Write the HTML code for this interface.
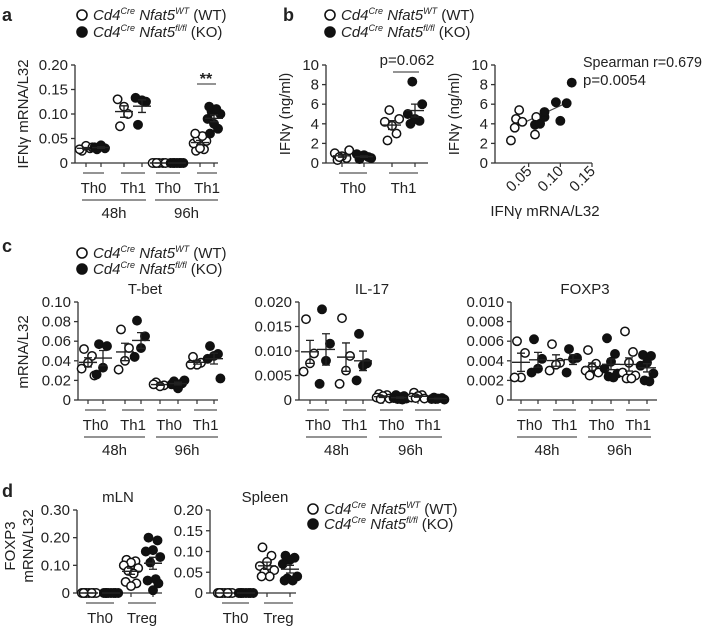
<!DOCTYPE html>
<html><head><meta charset="utf-8">
<style>
body{margin:0;background:#fff;}
svg{display:block;font-family:"Liberation Sans",Arial,sans-serif;fill:#222;}
text{fill:#222;}
</style></head>
<body>
<svg id="fig" width="706" height="627" viewBox="0 0 706 627" xmlns="http://www.w3.org/2000/svg">
<g font-weight="bold" font-size="18">
<text x="2" y="21">a</text>
<text x="283" y="21">b</text>
<text x="2" y="252">c</text>
<text x="2" y="497">d</text>
</g>
</svg>
<script>
// ---------- DATA ----------
const aGroups = ["Th0","Th1","Th0","Th1"];
const aTimes = ["48h","96h"];
const aWT = [[0.025,0.03,0.035,0.028,0.032],[0.075,0.1,0.115,0.13],[0,0,0,0,0,0],[0.025,0.028,0.03,0.04,0.045,0.05,0.055,0.06]];
const aKO = [[0.028,0.03,0.036,0.032],[0.078,0.125,0.128,0.133],[0,0,0,0,0,0,0],[0.06,0.07,0.08,0.09,0.1,0.105,0.11,0.115]];
const aTicks = [0,0.05,0.10,0.15,0.20];
const aTickLabels = ["0","0.05","0.10","0.15","0.20"];

const bGroups = ["Th0","Th1"];
const bWT = [[0.3,0.5,0.7,1.0,1.3,0.6],[2.3,3.0,3.8,4.2,4.5,5.4]];
const bKO = [[0.4,0.6,0.8,0.9,0.5,0.7],[4.0,4.3,4.5,5.0,6.0,8.3]];
const bTicks = [0,2,4,6,8,10];

const sWTx = [0.022,0.028,0.030,0.035,0.040,0.060,0.062];
const sWTy = [2.3,3.6,4.5,5.4,4.2,2.9,4.7];
const sKOx = [0.060,0.068,0.075,0.075,0.093,0.100,0.110,0.118];
const sKOy = [3.9,4.0,4.7,5.2,6.2,4.3,6.1,8.2];
const sXTicks = [0.05,0.10,0.15];
const sXTickLabels = ["0.05","0.10","0.15"];
const sFit = [0.025,3.6,0.112,6.2];

const tbetWT = [[0.052,0.045,0.038,0.032,0.025],[0.072,0.053,0.040,0.031],[0.018,0.015,0.014,0.016],[0.044,0.038,0.036,0.036]];
const tbetKO = [[0.057,0.055,0.033,0.026],[0.081,0.065,0.053,0.044],[0.019,0.017,0.012,0.016,0.020],[0.055,0.047,0.045,0.042,0.022]];
const tbetTicks = [0,0.02,0.04,0.06,0.08,0.10];
const tbetTickLabels = ["0","0.02","0.04","0.06","0.08","0.10"];

const il17WT = [[0.0165,0.0095,0.0075,0.0058],[0.0167,0.009,0.006,0.0033],[0.0012,0.001,0.0008,0.0005,0.0003,0.0002],[0.0015,0.001,0.0008,0.0005,0.0003,0.0004]];
const il17KO = [[0.0185,0.0115,0.008,0.0033],[0.0135,0.0075,0.007,0.004],[0.001,0.0008,0.0006,0.0004,0.0003,0.0002,0.0001],[0.0005,0.0004,0.0003,0.0002,0.0001,0.0002]];
const il17Ticks = [0,0.005,0.010,0.015,0.020];
const il17TickLabels = ["0","0.005","0.010","0.015","0.020"];

const foxWT = [[0.006,0.0048,0.0023,0.0023],[0.0057,0.0038,0.0036,0.003],[0.0051,0.0037,0.0033,0.003,0.0028,0.0025],[0.007,0.0049,0.0038,0.0028,0.0025,0.0022,0.0022]];
const foxKO = [[0.0062,0.0042,0.0032,0.0028],[0.0052,0.0043,0.0042,0.0028],[0.0063,0.0047,0.0039,0.0032,0.0027,0.0024,0.0023],[0.0046,0.0045,0.0038,0.0035,0.0027,0.002,0.0019]];
const foxTicks = [0,0.002,0.004,0.006,0.008,0.010];
const foxTickLabels = ["0","0.002","0.004","0.006","0.008","0.010"];

const dGroups = ["Th0","Treg"];
const mlnWT = [[0,0,0,0,0,0,0,0],[0.12,0.115,0.11,0.1,0.09,0.08,0.07,0.04,0.035,0.025]];
const mlnKO = [[0,0,0,0,0,0,0,0],[0.2,0.19,0.155,0.15,0.13,0.11,0.05,0.045,0.035,0.01]];
const mlnTicks = [0,0.10,0.20,0.30];
const mlnTickLabels = ["0","0.10","0.20","0.30"];
const splWT = [[0,0,0,0,0,0,0,0],[0.11,0.09,0.075,0.065,0.055,0.05,0.04,0.04]];
const splKO = [[0,0,0,0,0,0,0,0],[0.09,0.085,0.08,0.07,0.04,0.035,0.03,0.03]];
const splTicks = [0,0.05,0.10,0.15,0.20];
const splTickLabels = ["0","0.05","0.10","0.15","0.20"];

// ---------- HELPERS ----------
const NS = "http://www.w3.org/2000/svg";
const svg = document.getElementById("fig");
function el(tag, attrs, parent){
  const e = document.createElementNS(NS, tag);
  for (const k in attrs) e.setAttribute(k, attrs[k]);
  (parent||svg).appendChild(e);
  return e;
}
function scale(d0,d1,p0,p1){return v=>p0+(v-d0)/(d1-d0)*(p1-p0);}
const JIT = [-5,5,0,-8,8,-3,3,-6,6,0,-4,4];
function meanSem(a){const m=a.reduce((s,v)=>s+v,0)/a.length;const sd=Math.sqrt(a.reduce((s,v)=>s+(v-m)*(v-m),0)/Math.max(1,a.length-1));return [m,sd/Math.sqrt(a.length)];}

function yAxis(g, x, y0, y1, ticks, labels, dmax){
  const y = scale(0,dmax,y0,y1);
  const ax = el("line",{x1:x,x2:x,y1:y0,y2:y1,stroke:"#333","stroke-width":1.3},g);
  
  
  ticks.forEach((t,i)=>{
    const tk = el("line",{x1:x-4,x2:x,y1:y(t),y2:y(t),stroke:"#333","stroke-width":1.3},g);
    
    
    const tl = el("text",{x:x-7,y:y(t)+5,"text-anchor":"end","font-size":15},g);
    
    
    tl.textContent = labels[i];
  });
  return y;
}

function dotPlot(name, cfg){
  const g = el("g",{});
  
  
  const y = yAxis(g, cfg.ax, cfg.y0, cfg.y1, cfg.ticks, cfg.labels, cfg.dmax);
  const xa = el("line",{x1:cfg.ax,x2:cfg.axEnd,y1:cfg.y0,y2:cfg.y0,stroke:"#333","stroke-width":1.3},g);
  
  
  if (cfg.title){
    const t = el("text",{x:cfg.titleX,y:cfg.y1-8,"text-anchor":"middle","font-size":15},g);
    
    
    t.textContent = cfg.title;
  }
  const series = [[cfg.wt,"open"],[cfg.ko,"filled"]];
  cfg.wt.forEach((_,gi)=>{
    series.forEach(([data,kind],si)=>{
      const cx = cfg.xs[gi*2+si];
      const tk = el("line",{x1:cx,x2:cx,y1:cfg.y0,y2:cfg.y0+4,stroke:"#333","stroke-width":1.2},g);
      
      
      data[gi].forEach((v,i)=>{
        const c = el("circle",{cx:cx+JIT[i%JIT.length]*cfg.jit,cy:y(v),r:4.2,
          fill:kind==="open"?"#fff":"#111",stroke:"#111","stroke-width":1.5},g);
        
        
      });
      const [m,se] = meanSem(data[gi]);
      const ml = el("line",{x1:cx-9,x2:cx+9,y1:y(m),y2:y(m),stroke:"#222","stroke-width":1.4},g);
      
      
      const eb = el("path",{d:`M${cx},${y(m-se)}V${y(m+se)}M${cx-4},${y(m-se)}H${cx+4}M${cx-4},${y(m+se)}H${cx+4}`,stroke:"#222","stroke-width":1.3,fill:"none"},g);
      
      
    });
    const xa0 = cfg.xs[gi*2], xa1 = cfg.xs[gi*2+1];
    const gl = el("line",{x1:xa0-3,x2:xa1+3,y1:cfg.y0+10,y2:cfg.y0+10,stroke:"#555","stroke-width":1.3},g);
    
    
    const lt = el("text",{x:(xa0+xa1)/2,y:cfg.y0+30,"text-anchor":"middle","font-size":15},g);
    
    
    lt.textContent = cfg.groups[gi];
  });
  if (cfg.times){
    cfg.times.forEach((t,ti)=>{
      const xa0 = cfg.xs[ti*4], xa1 = cfg.xs[ti*4+3];
      const tl = el("line",{x1:xa0-4,x2:xa1+4,y1:cfg.y0+37,y2:cfg.y0+37,stroke:"#555","stroke-width":1.3},g);
      
      
      const tt = el("text",{x:(xa0+xa1)/2,y:cfg.y0+55,"text-anchor":"middle","font-size":15},g);
      
      
      tt.textContent = t;
    });
  }
  return {g,y};
}

function legend(name, x, y, sp){
  const g = el("g",{});
  
  
  [["WT","(WT)","#fff"],["fl/fl","(KO)","#111"]].forEach(([sup,lab,f],i)=>{
    const c = el("circle",{cx:x,cy:y+i*sp,r:5,fill:f,stroke:"#111","stroke-width":1.6},g);
    
    
    const t = el("text",{x:x+11,y:y+i*sp+5,"font-size":15},g);
    
    
    t.innerHTML = `<tspan font-style="italic">Cd4</tspan><tspan font-style="italic" font-size="9" dy="-6">Cre</tspan><tspan font-style="italic" dy="6"> Nfat5</tspan><tspan font-style="italic" font-size="9" dy="-6">${sup}</tspan><tspan dy="6"> ${lab}</tspan>`;
  });
}

function yTitle(name, x, y, txt){
  const t = el("text",{x:x,y:y,"text-anchor":"middle","font-size":15,transform:`rotate(-90 ${x} ${y})`});
  
  
  t.textContent = txt;
}

// ---------- PANEL A ----------
legend("legend-a", 82, 15, 17);
yTitle("y-axis-title-a", 28, 114, "IFNγ mRNA/L32");
dotPlot("panel-a-plot",{ax:75,axEnd:218,y0:163,y1:65,dmax:0.20,ticks:aTicks,labels:aTickLabels,
  xs:[86,101,124,142,159,177,200,214],wt:aWT,ko:aKO,groups:aGroups,times:aTimes,jit:0.8});
{const l=el("line",{x1:197,x2:216,y1:84,y2:84,stroke:"#555","stroke-width":1.3});


const t=el("text",{x:206,y:84,"text-anchor":"middle","font-size":16,"font-weight":"bold"});


t.textContent="**";}

// ---------- PANEL B ----------
legend("legend-b", 330, 15, 17);
yTitle("y-axis-title-b", 290, 114, "IFNγ (ng/ml)");
dotPlot("panel-b-plot",{ax:326,axEnd:428,y0:163,y1:65,dmax:10,ticks:bTicks,labels:bTicks.map(String),
  xs:[342,364,392,415],wt:bWT,ko:bKO,groups:bGroups,jit:0.9});
{const l=el("line",{x1:393,x2:419,y1:72,y2:72,stroke:"#555","stroke-width":1.3});


const t=el("text",{x:407,y:65,"text-anchor":"middle","font-size":15});


t.textContent="p=0.062";}

// scatter
{
const g = el("g",{});


const sy = yAxis(g, 495, 163, 65, bTicks, bTicks.map(String), 10);
const sx = scale(0,0.15,497,592);
const xa = el("line",{x1:495,x2:592,y1:163,y2:163,stroke:"#333","stroke-width":1.3},g);


sXTicks.forEach((t,i)=>{
  const tk = el("line",{x1:sx(t),x2:sx(t),y1:163,y2:167,stroke:"#333","stroke-width":1.2},g);
  
  
  const tx = sx(t)+4, ty = 172;
  const tl = el("text",{x:tx,y:ty,"text-anchor":"end","font-size":15,transform:`rotate(-45 ${tx} ${ty})`},g);
  
  
  tl.textContent = sXTickLabels[i];
});
const xt = el("text",{x:545,y:216,"text-anchor":"middle","font-size":15},g);


xt.textContent = "IFNγ mRNA/L32";
yTitle("y-axis-title-scatter", 459, 114, "IFNγ (ng/ml)");
const fl = el("line",{x1:sx(sFit[0]),y1:sy(sFit[1]),x2:sx(sFit[2]),y2:sy(sFit[3]),stroke:"#444","stroke-width":1.2},g);


sWTx.forEach((v,i)=>{
  const c = el("circle",{cx:sx(v),cy:sy(sWTy[i]),r:4.2,fill:"#fff",stroke:"#111","stroke-width":1.5},g);
  
  
});
sKOx.forEach((v,i)=>{
  const c = el("circle",{cx:sx(v),cy:sy(sKOy[i]),r:4.2,fill:"#111",stroke:"#111","stroke-width":1.5},g);
  
  
});
const s1 = el("text",{x:583,y:67,"font-size":15,textLength:119,lengthAdjust:"spacingAndGlyphs"},g);


s1.textContent = "Spearman r=0.679";
const s2 = el("text",{x:583,y:85,"font-size":15},g);


s2.textContent = "p=0.0054";
}

// ---------- PANEL C ----------
legend("legend-c", 82, 253, 16);
yTitle("y-axis-title-c", 28, 352, "mRNA/L32");
dotPlot("panel-c-tbet",{ax:78,axEnd:218,y0:400,y1:302,dmax:0.10,ticks:tbetTicks,labels:tbetTickLabels,
  xs:[88,103,125,141,160,178,197,214],wt:tbetWT,ko:tbetKO,groups:aGroups,times:aTimes,title:"T-bet",titleX:145,jit:0.8});
dotPlot("panel-c-il17",{ax:299,axEnd:445,y0:400,y1:302,dmax:0.020,ticks:il17Ticks,labels:il17TickLabels,
  xs:[310,326,346,363,383,400,418,438],wt:il17WT,ko:il17KO,groups:aGroups,times:aTimes,title:"IL-17",titleX:372,jit:0.8});
dotPlot("panel-c-foxp3",{ax:511,axEnd:657,y0:400,y1:302,dmax:0.010,ticks:foxTicks,labels:foxTickLabels,
  xs:[521,538,556,573,592,611,629,647],wt:foxWT,ko:foxKO,groups:aGroups,times:aTimes,title:"FOXP3",titleX:585,jit:0.8});

// ---------- PANEL D ----------
yTitle("y-axis-title-d-line1", 15, 546, "FOXP3");
yTitle("y-axis-title-d-line2", 33, 546, "mRNA/L32");
dotPlot("panel-d-mln",{ax:77,axEnd:162,y0:593,y1:510,dmax:0.30,ticks:mlnTicks,labels:mlnTickLabels,
  xs:[89,111,131,153],wt:mlnWT,ko:mlnKO,groups:dGroups,title:"mLN",titleX:118,jit:0.9});
dotPlot("panel-d-spleen",{ax:210,axEnd:296,y0:593,y1:510,dmax:0.20,ticks:splTicks,labels:splTickLabels,
  xs:[225,246,267,290],wt:splWT,ko:splKO,groups:dGroups,title:"Spleen",titleX:265,jit:0.9});
legend("legend-d", 313, 509, 15);
</script>
</body></html>
